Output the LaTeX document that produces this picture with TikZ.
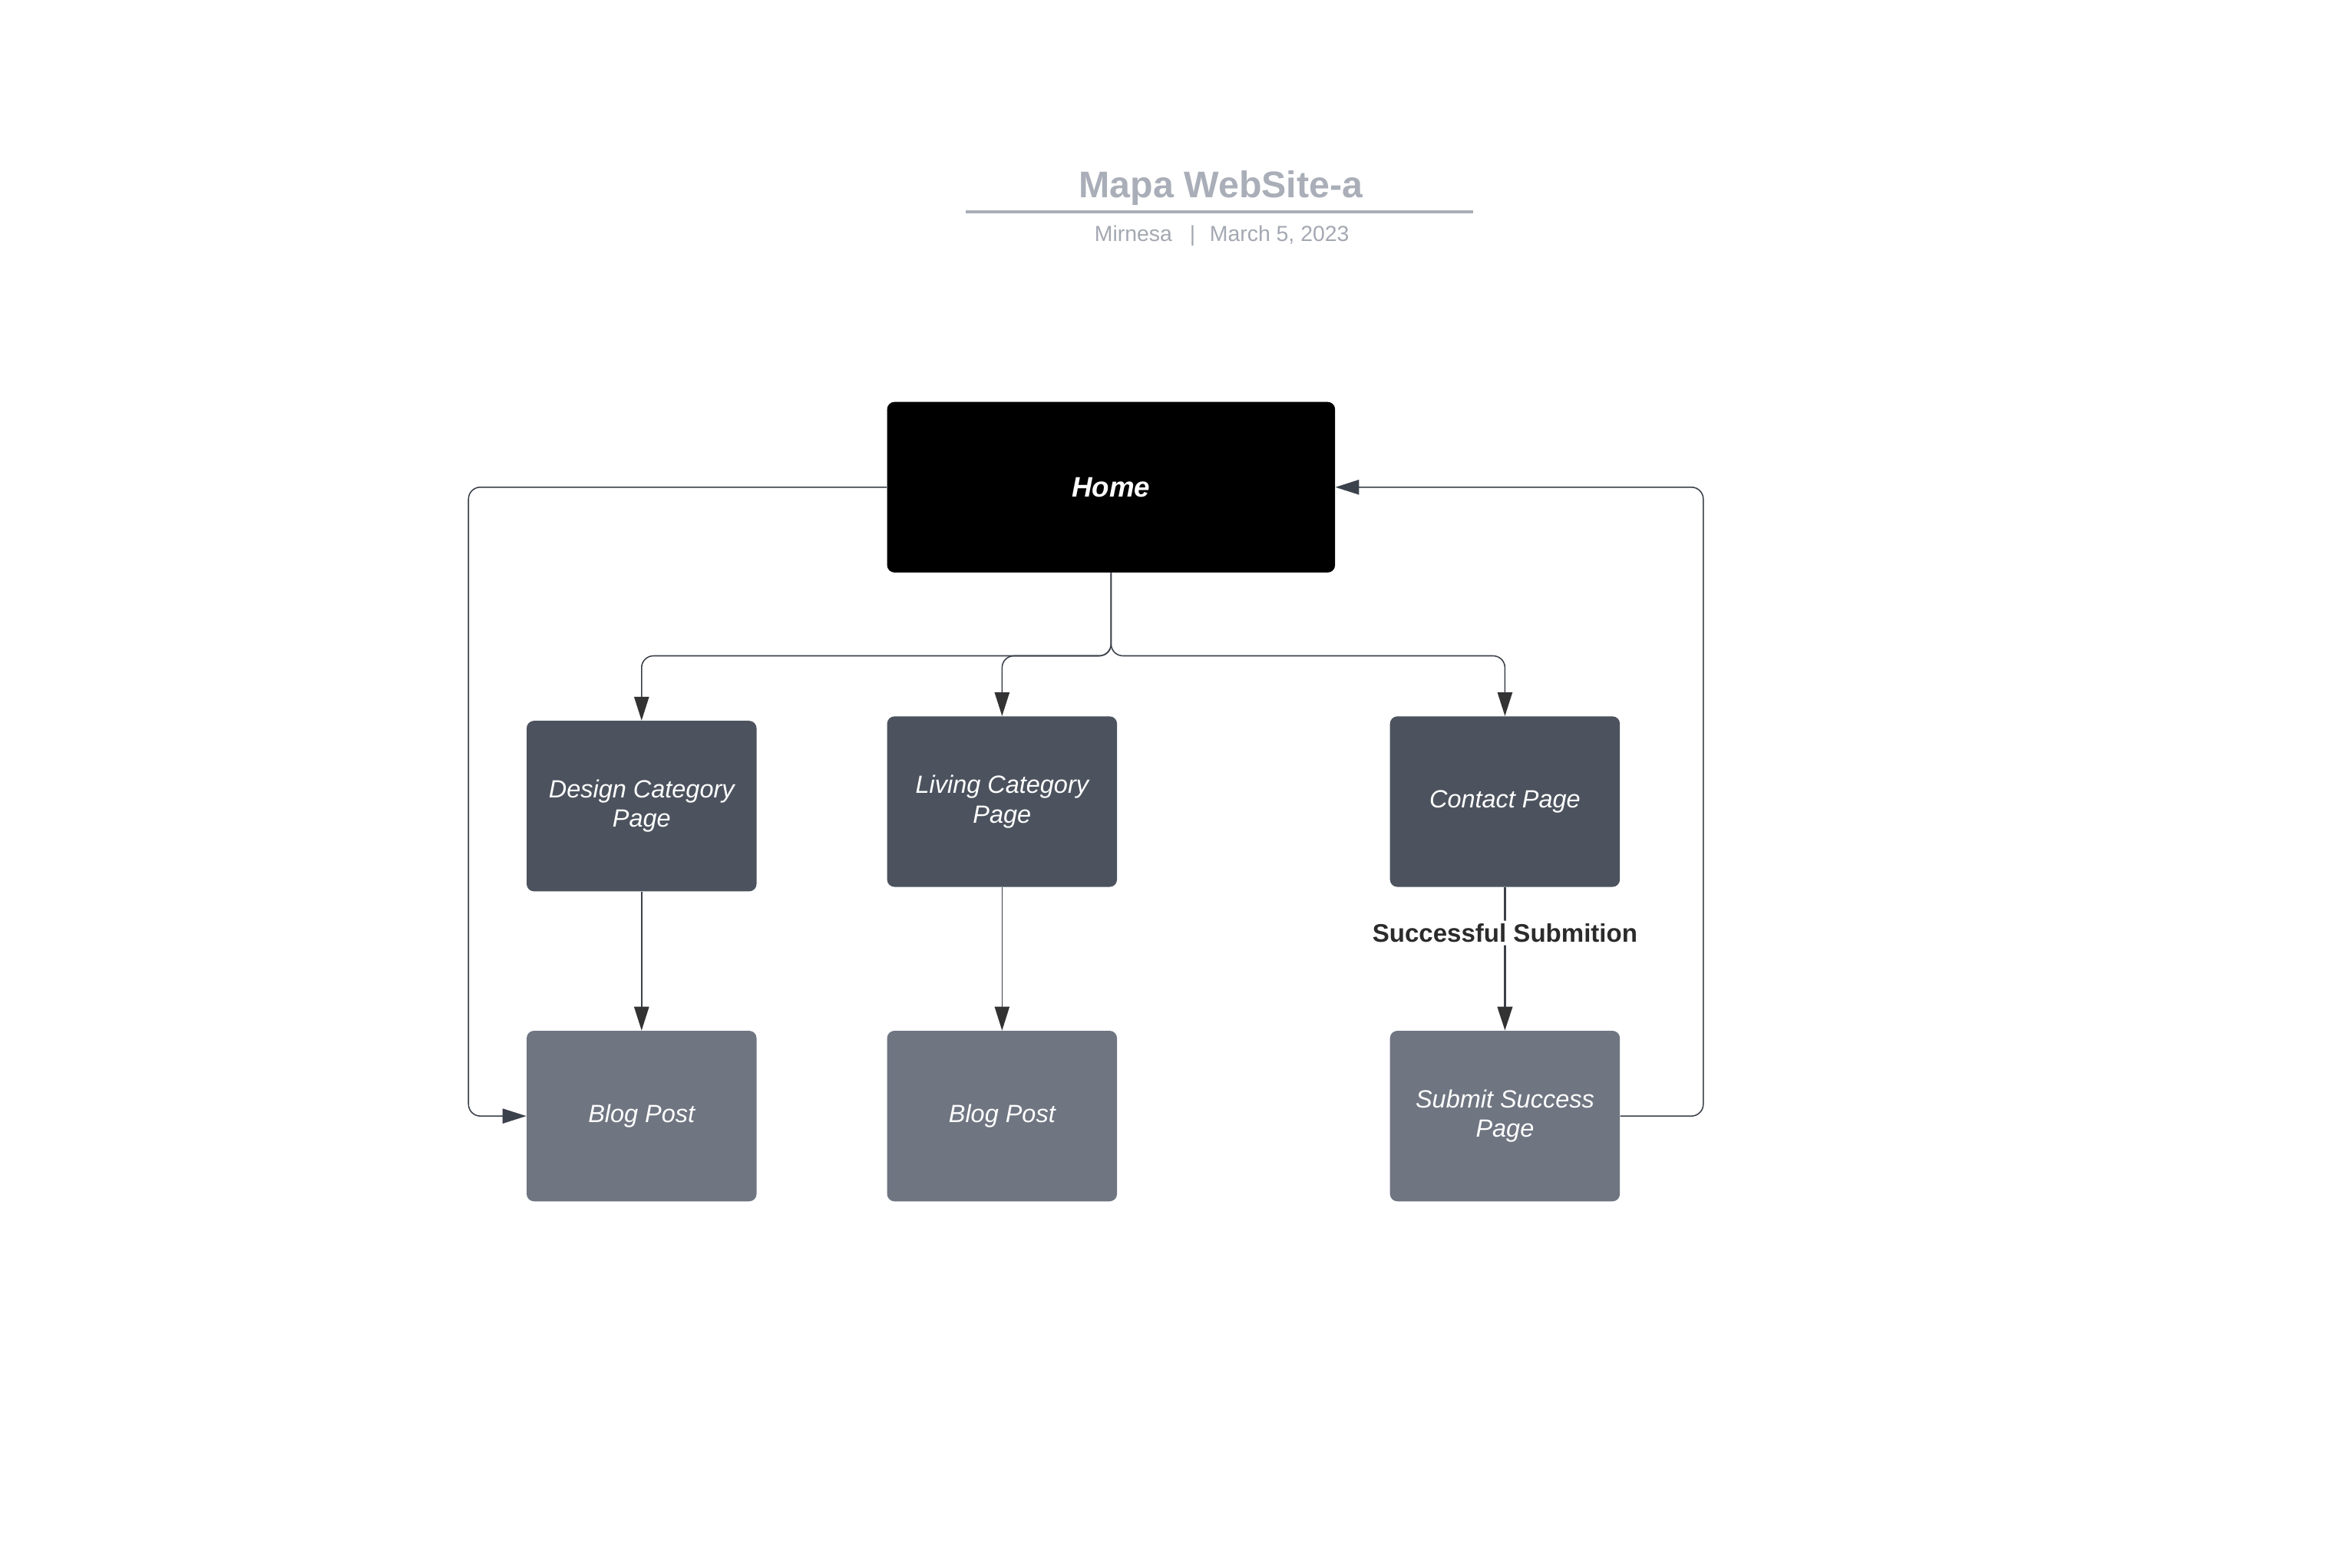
\documentclass[tikz,border=0pt]{standalone}
\usepackage{fontspec}
\setmainfont{Liberation Sans}
\usetikzlibrary{arrows.meta}
\definecolor{titlegray}{HTML}{A9AEB8}
\definecolor{subgray}{HTML}{A3A8B2}
\definecolor{darkbox}{HTML}{4C535E}
\definecolor{lightbox}{HTML}{6F7581}
\definecolor{linecol}{HTML}{3B4049}
\definecolor{tipcol}{HTML}{333333}
\definecolor{tipblue}{HTML}{3C424C}
\definecolor{labelcol}{HTML}{2B2B2B}
\tikzset{
  pagebox/.style={rounded corners=5pt, draw=none, minimum width=155pt, minimum height=115pt,
    inner sep=0pt, align=center, text=white, font=\fontsize{16.8}{20}\selectfont\itshape},
  darkpage/.style={pagebox, fill=darkbox},
  lightpage/.style={pagebox, fill=lightbox},
  conn/.style={draw=linecol, line width=0.8pt, rounded corners=8pt, color=linecol},
  tipfill/.style={-{Triangle[length=16pt,width=10pt,fill=tipcol,color=tipcol]}},
  tipblue/.style={-{Triangle[length=16pt,width=10pt,fill=tipblue,color=tipblue]}},
  subtitle/.style={text=subgray, font=\fontsize{14.7}{18}\selectfont, anchor=base}
}
\begin{document}
\begin{tikzpicture}[x=1pt,y=-1pt]
\useasboundingbox (0,0) rectangle (1568,1057);
% title
\node[text=titlegray, font=\fontsize{25}{30}\selectfont\bfseries, anchor=base] (title) at (823,133) {Mapa WebSite-a};
\draw[titlegray, line width=2pt] (651,143) -- (993,143);
\node[subtitle] (author) at (764,163) {Mirnesa};
\node[subtitle] (sep) at (804,163) {|};
\node[subtitle] (date) at (862.5,163) {March 5, 2023};
% nodes
\node[rounded corners=5pt, fill=black, minimum width=302pt, minimum height=115pt, inner sep=0pt,
  text=white, font=\fontsize{19}{23}\selectfont\bfseries\itshape] (Home) at (749,328.5) {Home};
\node[darkpage] (Design) at (432.5,543.5) {Design Category\\Page};
\node[darkpage] (Living) at (675.5,540.5) {Living Category\\Page};
\node[darkpage] (Contact) at (1014.5,540.5) {Contact Page};
\node[lightpage] (Blog1) at (432.5,752.5) {Blog Post};
\node[lightpage] (Blog2) at (675.5,752.5) {Blog Post};
\node[lightpage] (Submit) at (1014.5,752.5) {Submit Success\\Page};
% connectors
\draw[conn, tipfill] (Home.south) -- ++(0,56) -| (Design.north);
\draw[conn, tipfill] (Home.south) -- ++(0,56) -| (Living.north);
\draw[conn, tipfill] (Home.south) -- ++(0,56) -| (Contact.north);
\draw[conn, tipfill] (Design.south) -- (Blog1.north);
\draw[conn, tipfill, line width=0.5pt] (Living.south) -- (Blog2.north);
\draw[conn, tipfill, line width=1.6pt] (Contact.south) -- (Submit.north)
  node[pos=0.32, fill=white, inner sep=2pt, text=labelcol, font=\fontsize{17.1}{20}\selectfont\bfseries] (lbl) {Successful Submition};
\draw[conn, tipblue] (Home.west) -- ++(-282,0) |- (Blog1.west);
\draw[conn, tipblue] (Submit.east) -- ++(56,0) |- (Home.east);
\end{tikzpicture}
\end{document}
